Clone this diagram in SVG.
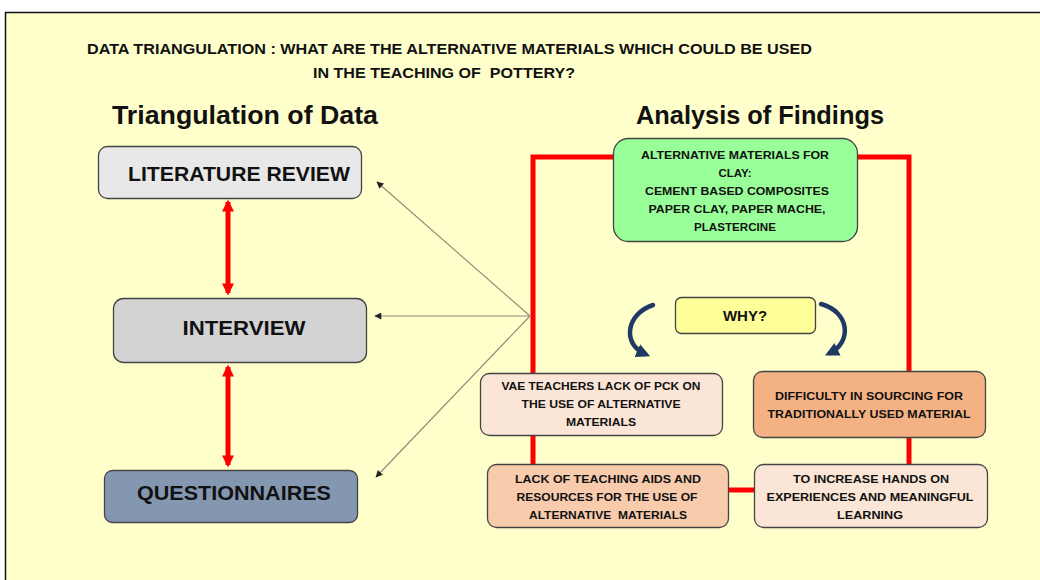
<svg xmlns="http://www.w3.org/2000/svg" width="1040" height="580" viewBox="0 0 1040 580">
<defs>
<style>
.t{font-family:"Liberation Sans",Arial,sans-serif;font-weight:bold;fill:#111;white-space:pre;}
.big{font-size:21px;text-anchor:middle;}
.sm{font-size:11.5px;text-anchor:middle;}
.box{stroke:#444;stroke-width:1.3;}
.red{stroke:#ff0000;stroke-width:5;fill:none;}
.thin{stroke:#8a8a78;stroke-width:1.1;fill:none;}
.navy{stroke:#1f3864;stroke-width:4.5;fill:none;stroke-linecap:round;}
</style>
<marker id="rh" viewBox="0 0 10 10" refX="8" refY="5" markerWidth="14" markerHeight="12" markerUnits="userSpaceOnUse" orient="auto-start-reverse">
<path d="M0,0 L10,5 L0,10 z" fill="#ff0000"/>
</marker>
<marker id="gh" viewBox="0 0 10 10" refX="9" refY="5" markerWidth="8" markerHeight="7" markerUnits="userSpaceOnUse" orient="auto">
<path d="M0,0 L10,5 L0,10 z" fill="#222"/>
</marker>
<marker id="nh" viewBox="0 0 10 10" refX="6" refY="5" markerWidth="14" markerHeight="14" markerUnits="userSpaceOnUse" orient="auto">
<path d="M0,0 L10,5 L0,10 z" fill="#1f3864"/>
</marker>
</defs>
<rect width="1040" height="580" fill="#ffffff"/>
<rect x="5.5" y="12.5" width="1050" height="600" fill="#ffffcc" stroke="#111" stroke-width="1.5"/>

<g id="title">
<text class="t" x="87" y="54" font-size="14.5" textLength="725" lengthAdjust="spacingAndGlyphs">DATA TRIANGULATION : WHAT ARE THE ALTERNATIVE MATERIALS WHICH COULD BE USED</text>
<text class="t" x="313" y="78" font-size="14.5" textLength="262" lengthAdjust="spacingAndGlyphs">IN THE TEACHING OF  POTTERY?</text>
<text class="t" x="112" y="124" font-size="26" textLength="266" lengthAdjust="spacingAndGlyphs">Triangulation of Data</text>
<text class="t" x="636" y="124" font-size="26" textLength="248" lengthAdjust="spacingAndGlyphs">Analysis of Findings</text>
</g>

<g id="connectors">
<line class="red" x1="228" y1="202" x2="228" y2="293" marker-start="url(#rh)" marker-end="url(#rh)"/>
<line class="red" x1="228" y1="367" x2="228" y2="465" marker-start="url(#rh)" marker-end="url(#rh)"/>
<line class="thin" x1="530" y1="316" x2="377" y2="182" marker-end="url(#gh)"/>
<line class="thin" x1="530" y1="316" x2="375" y2="316" marker-end="url(#gh)"/>
<line class="thin" x1="530" y1="316" x2="376" y2="477" marker-end="url(#gh)"/>
<polyline class="red" points="614,157 533,157 533,374"/>
<polyline class="red" points="856,157 909,157 909,372"/>
<line class="red" x1="533" y1="435" x2="533" y2="465"/>
<line class="red" x1="909" y1="436" x2="909" y2="465"/>
<line class="red" x1="727" y1="490" x2="755" y2="490"/>
<path class="navy" d="M653,305 C626,314 622,344 645,354" marker-end="url(#nh)"/>
<path class="navy" d="M821,304 C850,312 852,342 830,353" marker-end="url(#nh)"/>
</g>

<g id="literature-review">
<rect class="box" x="98.5" y="146.5" width="263" height="52" rx="9" fill="#e8e8e8"/>
<text class="t big" x="239" y="181" textLength="222" lengthAdjust="spacingAndGlyphs">LITERATURE REVIEW</text>
</g>
<g id="interview">
<rect class="box" x="113.5" y="298.5" width="253" height="64" rx="10" fill="#d3d3d3"/>
<text class="t big" x="244" y="335" textLength="123" lengthAdjust="spacingAndGlyphs">INTERVIEW</text>
</g>
<g id="questionnaires">
<rect class="box" x="104.5" y="470.5" width="253" height="52" rx="8" fill="#8497b0"/>
<text class="t big" x="234" y="500" textLength="194" lengthAdjust="spacingAndGlyphs">QUESTIONNAIRES</text>
</g>

<g id="alternative-materials">
<rect class="box" x="613.5" y="138.5" width="244" height="103" rx="15" fill="#99ff99"/>
<text class="t sm" x="735" y="159" textLength="188" lengthAdjust="spacingAndGlyphs">ALTERNATIVE MATERIALS FOR</text>
<text class="t sm" x="735" y="177">CLAY:</text>
<text class="t sm" x="737" y="195" textLength="184" lengthAdjust="spacingAndGlyphs">CEMENT BASED COMPOSITES</text>
<text class="t sm" x="737" y="213" textLength="177" lengthAdjust="spacingAndGlyphs">PAPER CLAY, PAPER MACHE,</text>
<text class="t sm" x="735" y="231" textLength="82" lengthAdjust="spacingAndGlyphs">PLASTERCINE</text>
</g>

<g id="why">
<rect class="box" x="675.5" y="297.5" width="140" height="36" rx="6" fill="#ffff99"/>
<text class="t" x="745" y="321" font-size="15" text-anchor="middle">WHY?</text>
</g>

<g id="vae-teachers">
<rect class="box" x="480.5" y="373.5" width="242" height="62" rx="9" fill="#fbe5d6"/>
<text class="t sm" x="601" y="390" textLength="199" lengthAdjust="spacingAndGlyphs">VAE TEACHERS LACK OF PCK ON</text>
<text class="t sm" x="601" y="408" textLength="159" lengthAdjust="spacingAndGlyphs">THE USE OF ALTERNATIVE</text>
<text class="t sm" x="601" y="426" textLength="70" lengthAdjust="spacingAndGlyphs">MATERIALS</text>
</g>

<g id="difficulty">
<rect class="box" x="753.5" y="371.5" width="232" height="66" rx="9" fill="#f4b183"/>
<text class="t sm" x="869" y="400" textLength="188" lengthAdjust="spacingAndGlyphs">DIFFICULTY IN SOURCING FOR</text>
<text class="t sm" x="869" y="418" textLength="203" lengthAdjust="spacingAndGlyphs">TRADITIONALLY USED MATERIAL</text>
</g>

<g id="lack-of-aids">
<rect class="box" x="487.5" y="464.5" width="241" height="63" rx="9" fill="#f8cbad"/>
<text class="t sm" x="608" y="483" textLength="186" lengthAdjust="spacingAndGlyphs">LACK OF TEACHING AIDS AND</text>
<text class="t sm" x="607" y="501" textLength="181" lengthAdjust="spacingAndGlyphs">RESOURCES FOR THE USE OF</text>
<text class="t sm" x="608" y="519" textLength="158" lengthAdjust="spacingAndGlyphs">ALTERNATIVE  MATERIALS</text>
</g>

<g id="hands-on">
<rect class="box" x="754.5" y="464.5" width="233" height="63" rx="9" fill="#fbe5d6"/>
<text class="t sm" x="871" y="483" textLength="156" lengthAdjust="spacingAndGlyphs">TO INCREASE HANDS ON</text>
<text class="t sm" x="870" y="501" textLength="207" lengthAdjust="spacingAndGlyphs">EXPERIENCES AND MEANINGFUL</text>
<text class="t sm" x="870" y="519" textLength="66" lengthAdjust="spacingAndGlyphs">LEARNING</text>
</g>
</svg>
